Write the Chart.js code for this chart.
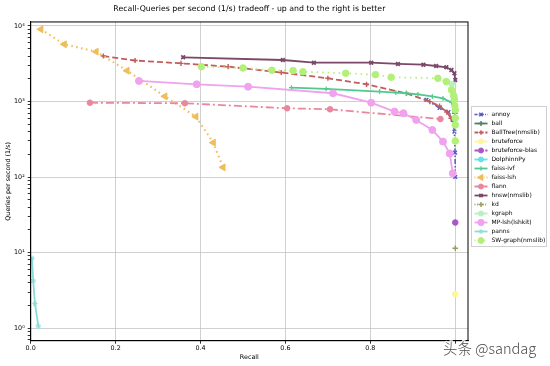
<!DOCTYPE html>
<html>
<head>
<meta charset="utf-8">
<script src="https://cdn.jsdelivr.net/npm/chart.js@4.4.1/dist/chart.umd.min.js"></script>
<style>
  html, body { margin: 0; padding: 0; background: #fff; }
  #wrap { width: 550px; height: 366px; position: relative; }
</style>
</head>
<body>
<div id="wrap"><canvas id="chart"></canvas></div>
<script>
// recall (x) / queries per second (y)
const annoyRecall = [0.932, 0.963, 0.984, 0.994, 0.998, 0.9995, 1.0]
const annoyQps = [1050, 820, 725, 570, 400, 210, 100]

const ballRecall = [0.996, 0.999, 1.0]
const ballQps = [1000, 700, 520]

const ballTreeRecall = [0.171, 0.246, 0.354, 0.465, 0.590, 0.700, 0.791, 0.885, 0.940, 0.963, 0.980, 0.990]
const ballTreeQps = [4000, 3490, 3200, 2890, 2420, 2030, 1690, 1280, 995, 870, 725, 600]

const bruteforceRecall = [1.0]
const bruteforceQps = [2.8]

const bruteforceBlasRecall = [1.0]
const bruteforceBlasQps = [25]

const dolphinnRecall = []
const dolphinnQps = []

const faissIvfRecall = [0.614, 0.696, 0.822, 0.860, 0.885, 0.912, 0.946, 0.971, 0.991, 0.9995]
const faissIvfQps = [1525, 1465, 1355, 1310, 1285, 1245, 1165, 1100, 970, 725]

const faissLshRecall = [0.024, 0.079, 0.154, 0.227, 0.316, 0.389, 0.430, 0.453]
const faissLshQps = [9040, 5725, 4570, 2560, 1170, 630, 285, 134]

const flannRecall = [0.1395, 0.363, 0.604, 0.705, 0.965]
const flannQps = [964, 947, 813, 788, 586]

const hnswRecall = [0.359, 0.594, 0.667, 0.802, 0.865, 0.925, 0.955, 0.979, 0.991, 0.998, 1.0]
const hnswQps = [3850, 3545, 3265, 3265, 3140, 3070, 2950, 2840, 2610, 2360, 1930]

const kdRecall = [1.0]
const kdQps = [11.4]

const kgraphRecall = [0.992, 0.998, 1.0]
const kgraphQps = [1700, 1150, 800]

const mpLshRecall = [0.255, 0.391, 0.512, 0.712, 0.802, 0.857, 0.878, 0.908, 0.946, 0.971, 0.987, 0.994]
const mpLshQps = [1870, 1690, 1570, 1285, 965, 735, 700, 570, 420, 295, 205, 112]

const pannsRecall = [0.003, 0.006, 0.010, 0.018]
const pannsQps = [8.4, 4.2, 2.1, 1.06]

const swGraphRecall = [0.402, 0.500, 0.568, 0.618, 0.641, 0.742, 0.812, 0.849, 0.959, 0.979, 0.991, 0.996, 0.998, 0.999, 1.0, 1.0, 1.0, 1.0]
const swGraphQps = [2890, 2780, 2590, 2560, 2480, 2365, 2265, 2095, 2030, 1830, 1420, 1200, 1050, 880, 770, 600, 490, 300]

const xTickValues = [0, 0.2, 0.4, 0.6, 0.8, 1.0]
const xTickLabels = ['0.0', '0.2', '0.4', '0.6', '0.8', ''] // 1.0 sits under the watermark
const yTickValues = [1, 10, 100, 1000, 10000]
const yTickLabels = ['10\u2070', '10\u00b9', '10\u00b2', '10\u00b3', '10\u2074']

const FONT = 'DejaVu Sans'

function pts(xs, ys) {
  return xs.map((x, i) => ({ x: x, y: ys[i] }))
}

function series(label, xs, ys, color, opts) {
  return Object.assign({
    label: label,
    data: pts(xs, ys),
    showLine: true,
    borderColor: color,
    backgroundColor: color,
    pointBackgroundColor: color,
    pointBorderColor: color,
    borderWidth: 1.8,
    pointRadius: 2.8,
    pointBorderWidth: 1,
    pointStyle: 'circle',
    tension: 0
  }, opts)
}

const datasets = [
  series('annoy', annoyRecall, annoyQps, '#5656c2', { borderDash: [5, 2, 1.5, 2], pointStyle: 'crossRot', borderWidth: 1.5, pointRadius: 2.6, pointBorderWidth: 1.4 }),
  series('ball', ballRecall, ballQps, '#4f7f5f', { pointStyle: 'cross', pointBorderWidth: 1.4 }),
  series('BallTree(nmslib)', ballTreeRecall, ballTreeQps, '#c45c5c', { borderDash: [6, 3], pointStyle: 'cross', pointBorderWidth: 1.4, pointRadius: 2.6 }),
  series('bruteforce', bruteforceRecall, bruteforceQps, '#fff59a', {}),
  series('bruteforce-blas', bruteforceBlasRecall, bruteforceBlasQps, '#a856c8', { borderDash: [6, 3] }),
  series('DolphinnPy', dolphinnRecall, dolphinnQps, '#62e2ea', {}),
  series('faiss-ivf', faissIvfRecall, faissIvfQps, '#4fca8c', { pointStyle: 'cross', pointBorderWidth: 1.2, pointRadius: 2.4 }),
  series('faiss-lsh', faissLshRecall, faissLshQps, '#eebd5c', { borderDash: [1.5, 3.5], borderWidth: 2.2, pointStyle: 'triangle', pointRotation: -90, pointRadius: 4 }),
  series('flann', flannRecall, flannQps, '#e8889e', { borderDash: [8, 3, 2, 3], pointRadius: 2.8 }),
  series('hnsw(nmslib)', hnswRecall, hnswQps, '#7a4868', { pointStyle: 'crossRot', pointRadius: 2.6, pointBorderWidth: 1.8 }),
  series('kd', kdRecall, kdQps, '#9a9a5a', { borderDash: [1.5, 3], pointStyle: 'cross', pointBorderWidth: 1.4 }),
  series('kgraph', kgraphRecall, kgraphQps, '#b8f0c0', {}),
  series('MP-lsh(lshkit)', mpLshRecall, mpLshQps, '#f0a2ee', { pointRadius: 3.5 }),
  series('panns', pannsRecall, pannsQps, '#8adcd6', { pointStyle: 'star', pointRadius: 2.8 }),
  series('SW-graph(nmslib)', swGraphRecall, swGraphQps, '#b2f07a', { borderDash: [1.5, 4], pointRadius: 3.3 })
]
datasets.forEach((d, i) => { d.order = -i })

// matplotlib style box around the axes
const spines = {
  id: 'spines',
  afterDatasetsDraw(chart) {
    const a = chart.chartArea, ctx = chart.ctx
    ctx.save()
    ctx.strokeStyle = '#000'
    ctx.lineWidth = 1
    ctx.strokeRect(a.left, a.top, a.right - a.left, a.bottom - a.top)
    ctx.restore()
  }
}

const legendBox = {
  id: 'legendBox',
  afterDraw(chart) {
    const ctx = chart.ctx
    const sets = chart.data.datasets
    const left = chart.chartArea.right + 3.5
    const top = 106.5
    const rowH = 9
    const w = 75, h = rowH * sets.length + 5
    ctx.save()
    ctx.fillStyle = 'rgba(255,255,255,0.9)'
    ctx.strokeStyle = '#cfcfcf'
    ctx.lineWidth = 1
    ctx.fillRect(left, top, w, h)
    ctx.strokeRect(left, top, w, h)
    ctx.font = '6px "' + FONT + '"'
    ctx.textBaseline = 'middle'
    sets.forEach((ds, i) => {
      const y = top + 8 + i * rowH
      ctx.strokeStyle = ds.borderColor
      ctx.lineWidth = ds.borderWidth
      ctx.setLineDash(ds.borderDash ? ds.borderDash.map(v => v * 0.6) : [])
      ctx.beginPath()
      ctx.moveTo(left + 3, y)
      ctx.lineTo(left + 16, y)
      ctx.stroke()
      ctx.setLineDash([])
      ctx.fillStyle = ds.pointBackgroundColor
      ctx.strokeStyle = ds.pointBorderColor
      ctx.lineWidth = ds.pointBorderWidth
      Chart.helpers.drawPoint(ctx, {
        pointStyle: ds.pointStyle,
        radius: ds.pointRadius * 0.9,
        rotation: ds.pointRotation || 0,
        borderWidth: ds.pointBorderWidth
      }, left + 9.5, y)
      ctx.fillStyle = '#000'
      ctx.fillText(ds.label, left + 20, y)
    })
    ctx.restore()
  }
}

const watermark = {
  id: 'watermark',
  afterDraw(chart) {
    const ctx = chart.ctx
    ctx.save()
    ctx.font = '300 14.5px "Noto Sans CJK SC"'
    ctx.textBaseline = 'middle'
    ctx.lineWidth = 2.5
    ctx.strokeStyle = 'rgba(255,255,255,0.9)'
    ctx.strokeText('头条 @sandag', 443, 348.5)
    ctx.fillStyle = '#4a4a4a'
    ctx.fillText('头条 @sandag', 443, 348.5)
    ctx.restore()
  }
}

new Chart(document.getElementById('chart'), {
  type: 'scatter',
  data: { datasets: datasets },
  plugins: [spines, legendBox, watermark],
  options: {
    responsive: true,
    maintainAspectRatio: false,
    animation: false,
    devicePixelRatio: 1,
    layout: { padding: { left: 0, right: 82, top: 0, bottom: 0 } },
    scales: {
      x: {
        type: 'linear',
        min: 0,
        max: 1.03,
        afterBuildTicks: (scale) => { scale.ticks = xTickValues.map(v => ({ value: v })) },
        afterFit: (scale) => { scale.height = 25.3 },
        ticks: {
          autoSkip: false,
          maxRotation: 0,
          padding: 1,
          color: '#000',
          font: { family: FONT, size: 6.4 },
          callback: (v) => xTickLabels[xTickValues.indexOf(v)] ?? ''
        },
        grid: { color: '#c4c4c4', lineWidth: 0.8, tickColor: '#000', tickLength: 3 },
        border: { color: '#000', width: 1 },
        title: {
          display: true,
          text: 'Recall',
          color: '#000',
          font: { family: FONT, size: 6.4 },
          padding: { top: 0, bottom: 5.3 }
        }
      },
      y: {
        type: 'logarithmic',
        min: 0.68,
        max: 11300,
        afterBuildTicks: (scale) => {
          const ticks = []
          for (let e = -1; e <= 4; e++) {
            for (let m = 1; m <= 9; m++) {
              const v = m * Math.pow(10, e)
              if (v >= 0.68 && v <= 11300) ticks.push({ value: v })
            }
          }
          scale.ticks = ticks
        },
        afterFit: (scale) => { scale.width = 30.7 },
        ticks: {
          autoSkip: false,
          padding: 3,
          color: '#000',
          font: { family: FONT, size: 6.4 },
          callback: (v) => {
            const i = yTickValues.indexOf(v)
            return i >= 0 ? yTickLabels[i] : ''
          }
        },
        grid: {
          color: (c) => yTickValues.includes(c.tick && c.tick.value) ? '#c4c4c4' : 'rgba(0,0,0,0)',
          lineWidth: 0.8,
          tickColor: '#000',
          tickLength: 3
        },
        border: { color: '#000', width: 1 },
        title: {
          display: true,
          text: 'Queries per second (1/s)',
          color: '#000',
          font: { family: FONT, size: 6.4 },
          padding: { top: 4.6, bottom: 0 }
        }
      }
    },
    plugins: {
      legend: { display: false },
      tooltip: { enabled: false },
      title: {
        display: true,
        fullSize: false,
        text: 'Recall-Queries per second (1/s) tradeoff - up and to the right is better',
        color: '#000',
        font: { family: FONT, size: 7.8, weight: 'normal' },
        padding: { top: 4.3, bottom: 8.3 }
      }
    }
  }
})
</script>
</body>
</html>
